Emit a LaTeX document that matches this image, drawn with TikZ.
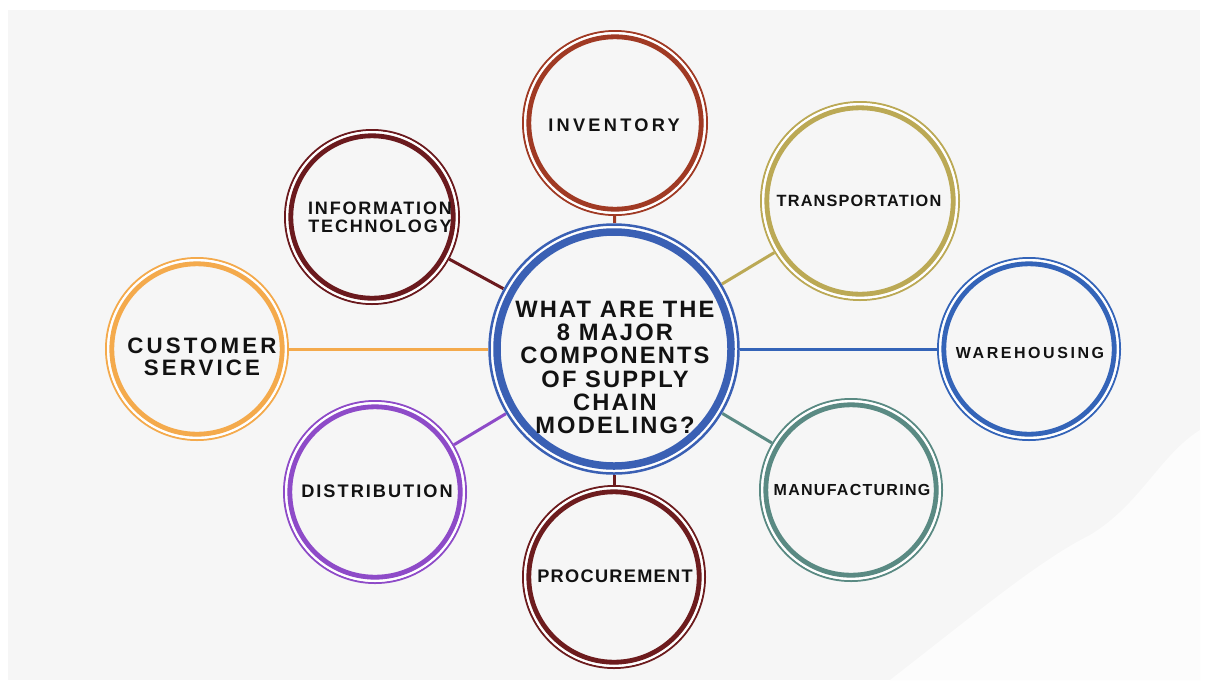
\documentclass[tikz,border=0pt]{standalone}
\usepackage{fontspec}
\setmainfont{Liberation Sans}
\definecolor{bggray}{HTML}{F6F6F6}
\definecolor{cblue}{HTML}{3A60B4}
\definecolor{cinv}{HTML}{A03A24}
\definecolor{cit}{HTML}{6B1A1E}
\definecolor{ctr}{HTML}{BBA955}
\definecolor{ccs}{HTML}{F4AA4C}
\definecolor{cwh}{HTML}{3464B8}
\definecolor{cdi}{HTML}{8E4BC8}
\definecolor{cpr}{HTML}{6D1C1E}
\definecolor{cmf}{HTML}{5A8A83}
\tikzset{
  hub/.style={circle, inner sep=0pt, outer sep=0pt, minimum size=#1, draw=none},
  lab/.style n args={3}{inner sep=0pt, outer sep=0pt, align=center, text=black!93,
    font=\bfseries\fontsize{#1}{#2}\selectfont\addfontfeatures{LetterSpace=#3}},
  conn/.style={draw=#1, line width=3pt}
}
\newcommand\myrings[3]{%
  \draw[#3, line width=2pt] (#1.center) circle[radius=#2pt-1pt];
  \draw[white, line width=2.4pt] (#1.center) circle[radius=#2pt-3.2pt];
  \draw[#3, line width=4.8pt] (#1.center) circle[radius=#2pt-6.8pt];
}
\begin{document}
\begin{tikzpicture}[x=1pt,y=-1pt]
\useasboundingbox (0,0) rectangle (1206,686);
\fill[white] (0,0) rectangle (1206,686);
\fill[bggray] (8,10) rectangle (1200,680);
\fill[white!70!bggray] (890,680) .. controls (980,610) and (1040,560) .. (1090,535)
  .. controls (1140,505) and (1160,455) .. (1200,430) -- (1200,680) -- cycle;

% hubs
\node[hub=252pt] (c) at (614,349) {};
\node[hub=186pt] (inv) at (615,123) {};
\node[hub=176pt] (it) at (372,217) {};
\node[hub=200pt] (tr) at (860,201) {};
\node[hub=184pt] (cs) at (197,349) {};
\node[hub=184pt] (wh) at (1029,349) {};
\node[hub=184pt] (di) at (375,492) {};
\node[hub=184pt] (pr) at (614,577) {};
\node[hub=184pt] (mf) at (851,490) {};

% connectors
\draw[conn=cinv] (c) -- (inv);
\draw[conn=cit] (c) -- (it);
\draw[conn=ctr] (c) -- (tr);
\draw[conn=ccs] (c) -- (cs);
\draw[conn=cwh] (c) -- (wh);
\draw[conn=cdi] (c) -- (di);
\draw[conn=cpr] (c) -- (pr);
\draw[conn=cmf] (c) -- (mf);

% rings
\draw[cblue, line width=2.5pt] (c.center) circle[radius=124.5pt];
\draw[white, line width=2.4pt] (c.center) circle[radius=121.5pt];
\draw[cblue, line width=7.5pt] (c.center) circle[radius=117pt];
\myrings{inv}{93}{cinv}
\myrings{it}{88}{cit}
\myrings{tr}{100}{ctr}
\myrings{cs}{92}{ccs}
\myrings{wh}{92}{cwh}
\myrings{di}{92}{cdi}
\myrings{pr}{92}{cpr}
\myrings{mf}{92}{cmf}

% labels
\node[lab={23.7}{23.2}{9}] (c-t) at (615,367.5) {WHAT ARE THE\\8 MAJOR\\COMPONENTS\\OF SUPPLY\\CHAIN\\MODELING?};
\node[lab={18.2}{18}{18}] (inv-t) at (614,125.7) {INVENTORY};
\node[lab={18}{18}{10}] (it-t) at (380,217.5) {INFORMATION\\TECHNOLOGY};
\node[lab={16.3}{16}{7}] (tr-t) at (859,201) {TRANSPORTATION};
\node[lab={22.3}{22.4}{14}] (cs-t) at (202,356.7) {CUSTOMER\\SERVICE};
\node[lab={16}{16}{16}] (wh-t) at (1030,352.7) {WAREHOUSING};
\node[lab={18.2}{18}{11}] (di-t) at (377,491.7) {DISTRIBUTION};
\node[lab={18.2}{18}{7}] (pr-t) at (615,576.7) {PROCUREMENT};
\node[lab={16}{16}{8}] (mf-t) at (852,490) {MANUFACTURING};
\end{tikzpicture}
\end{document}
